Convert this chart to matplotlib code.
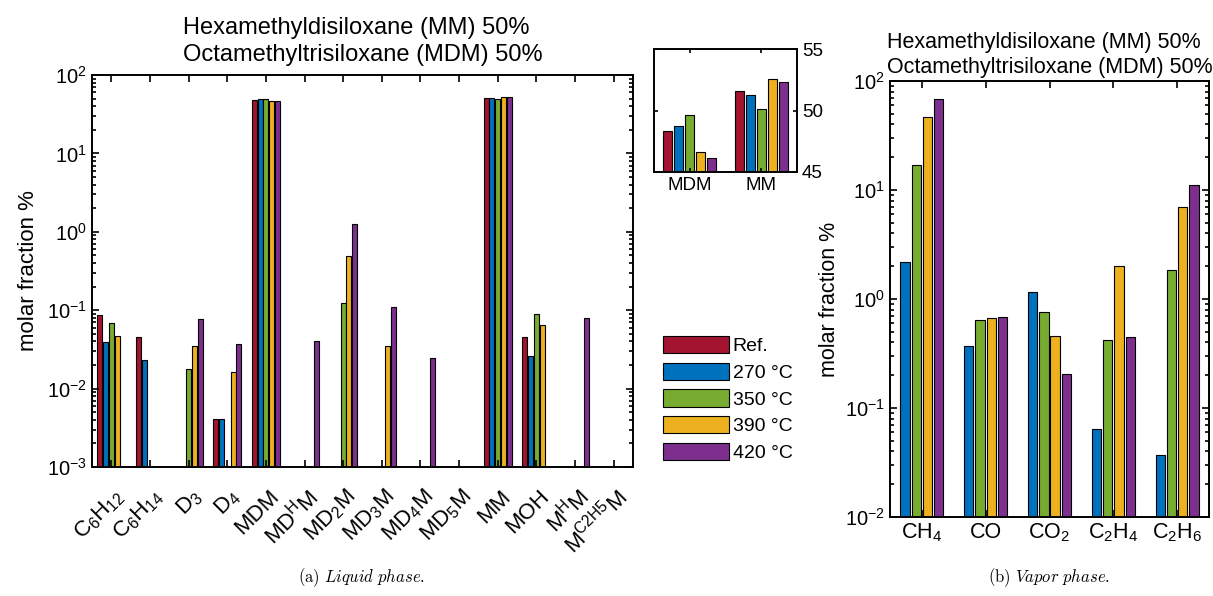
import numpy as np
import matplotlib
matplotlib.use('Agg')
import matplotlib.pyplot as plt
from matplotlib.patches import Patch

plt.rcParams['font.family'] = ['Liberation Sans', 'DejaVu Sans']
plt.rcParams['mathtext.fontset'] = 'custom'
plt.rcParams['mathtext.rm'] = 'Liberation Sans'
plt.rcParams['mathtext.it'] = 'Liberation Sans:italic'
plt.rcParams['mathtext.default'] = 'regular'

nan = np.nan

# liquid phase composition, molar fraction %
liq_labels = ['C$_6$H$_{12}$', 'C$_6$H$_{14}$', 'D$_3$', 'D$_4$', 'MDM', 'MD$^H$M',
              'MD$_2$M', 'MD$_3$M', 'MD$_4$M', 'MD$_5$M', 'MM', 'MOH', 'M$^H$M',
              'M$^{C2H5}$M']
liq_ref = [0.086, 0.0455, nan, 0.0041, 48.3, nan, nan, nan, nan, nan, 51.6, 0.045, nan, nan]
liq_270 = [0.039, 0.0234, nan, 0.0041, 48.7, nan, nan, nan, nan, nan, 51.3, 0.026, nan, nan]
liq_350 = [0.069, nan, 0.0176, nan, 49.6, nan, 0.124, nan, nan, nan, 50.1, 0.0895, nan, nan]
liq_390 = [0.047, nan, 0.0346, 0.0164, 46.6, nan, 0.493, 0.0346, nan, nan, 52.6, 0.064, nan, nan]
liq_420 = [nan, nan, 0.0766, 0.0374, 46.1, 0.040, 1.24, 0.110, 0.0248, nan, 52.3, nan, 0.080, nan]

# vapor phase composition, molar fraction %
vap_labels = ['CH$_4$', 'CO', 'CO$_2$', 'C$_2$H$_4$', 'C$_2$H$_6$']
vap_270 = [2.17, 0.371, 1.17, 0.064, 0.0368]
vap_350 = [16.9, 0.642, 0.755, 0.424, 1.85]
vap_390 = [46.7, 0.670, 0.461, 2.02, 6.93]
vap_420 = [68.9, 0.684, 0.206, 0.451, 11.2]

series_names = ['Ref.', '270 °C', '350 °C', '390 °C', '420 °C']
colors = ['#A2142F', '#0072BD', '#77AC30', '#EDB120', '#7E2F8E']

W, H = 1213, 596
fig = plt.figure(figsize=(W / 100, H / 100), dpi=100)


def box(x0, y0, x1, y1):
    # pixel box (top-left origin) -> figure fraction rect
    return [x0 / W, 1 - y1 / H, (x1 - x0) / W, (y1 - y0) / H]


def style_axes(ax):
    for s in ax.spines.values():
        s.set_linewidth(1.4)
    ax.tick_params(which='both', direction='in', top=True, right=True, width=1.2)
    ax.tick_params(which='major', length=5)
    ax.tick_params(which='minor', length=3)


def grouped_bars(ax, series, cols, step, width):
    n = len(series)
    x = np.arange(1, len(series[0]) + 1)
    for i, (vals, c) in enumerate(zip(series, cols)):
        off = (i - (n - 1) / 2) * step
        ax.bar(x + off, vals, width=width, color=c, edgecolor='black', linewidth=0.8)


# ---- liquid phase
ax1 = fig.add_axes(box(92, 75, 633, 467))
liq = [liq_ref, liq_270, liq_350, liq_390, liq_420]
grouped_bars(ax1, liq, colors, 0.15, 0.13)
ax1.set_yscale('log')
ax1.set_ylim(1e-3, 1e2)
ax1.set_xlim(0.5, len(liq_labels) + 0.5)
xt = np.arange(1, len(liq_labels) + 1)
ax1.set_xticks(xt)
ax1.set_xticklabels([])
# rotated category names, placed by hand so they sit down-right of each tick
for x, lbl in zip(xt, liq_labels):
    ax1.annotate(lbl, xy=(x, 0), xycoords=('data', 'axes fraction'),
                 xytext=(7, -19), textcoords='offset points', rotation=45,
                 ha='right', va='center', rotation_mode='anchor', fontsize=16,
                 annotation_clip=False)
ax1.tick_params(axis='y', labelsize=14.5)
style_axes(ax1)
ax1.set_ylabel('molar fraction %', fontsize=16, labelpad=6)
ax1.set_title('Hexamethyldisiloxane (MM) 50%\nOctamethyltrisiloxane (MDM) 50%',
              fontsize=17, ma='left', pad=10, linespacing=1.3)

# zoom on the two main components
axi = fig.add_axes(box(654, 49, 797, 172))
i_mdm, i_mm = liq_labels.index('MDM'), liq_labels.index('MM')
inset = [[s[i_mdm], s[i_mm]] for s in liq]
grouped_bars(axi, inset, colors, 0.153, 0.126)
axi.set_xlim(0.5, 2.5)
axi.set_ylim(45, 55)
axi.set_yticks([45, 50, 55])
axi.set_xticks([1, 2])
axi.set_xticklabels(['MDM', 'MM'])
axi.yaxis.tick_right()
style_axes(axi)
axi.tick_params(which='major', length=3, labelsize=13.5, left=True, right=True)
axi.tick_params(axis='y', labelright=True, labelleft=False)

handles = [Patch(facecolor=c, edgecolor='black', linewidth=0.8) for c in colors]
fig.legend(handles, series_names, loc='upper left', bbox_to_anchor=(655 / W, 1 - 328 / H),
           frameon=False, fontsize=14, handlelength=3.4, handleheight=1.0,
           handletextpad=0.2, labelspacing=0.38, borderaxespad=0)

# ---- vapor phase
ax2 = fig.add_axes(box(890, 81, 1209, 517))
vap = [vap_270, vap_350, vap_390, vap_420]
grouped_bars(ax2, vap, colors[1:], 0.177, 0.146)
ax2.set_yscale('log')
ax2.set_ylim(1e-2, 1e2)
ax2.set_xlim(0.5, len(vap_labels) + 0.5)
ax2.set_xticks(np.arange(1, len(vap_labels) + 1))
ax2.set_xticklabels(vap_labels, fontsize=15.5)
ax2.tick_params(axis='y', labelsize=14.5)
style_axes(ax2)
ax2.set_ylabel('molar fraction %', fontsize=15.5, labelpad=4)
ax2.set_title('Hexamethyldisiloxane (MM) 50%\nOctamethyltrisiloxane (MDM) 50%',
              fontsize=15.5, ma='left', pad=6, linespacing=1.25)

# sub-captions
fig.text(362 / W, 1 - 578 / H, r'$\mathrm{(a)}\ \mathit{Liquid\ phase.}$',
         ha='center', va='center', fontsize=12, math_fontfamily='cm')
fig.text(1049 / W, 1 - 578 / H, r'$\mathrm{(b)}\ \mathit{Vapor\ phase.}$',
         ha='center', va='center', fontsize=12, math_fontfamily='cm')

fig.savefig('out.png', dpi=100)
